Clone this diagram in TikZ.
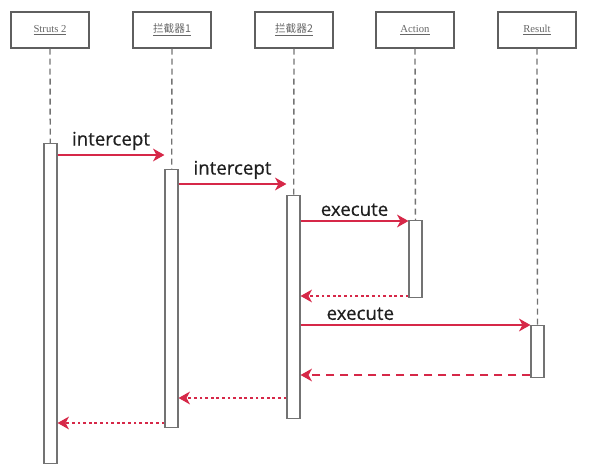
\documentclass[tikz,border=0pt]{standalone}
\usepackage{fontspec}
\setmainfont{Liberation Serif}
\newfontfamily\msgfont[FakeBold=0.5]{Open Sans}
\newfontfamily\cjkfont{Noto Sans CJK SC}
\usetikzlibrary{arrows.meta}
\definecolor{msg-red}{RGB}{214,40,72}
\definecolor{frame-gray}{RGB}{95,95,95}
\definecolor{life-gray}{RGB}{115,115,115}
\begin{document}
\begin{tikzpicture}[x=0.75pt,y=-0.75pt,
	head/.style={draw=frame-gray,line width=1.1pt,minimum width=58.5pt,minimum height=27pt,inner sep=0pt,
		font=\fontsize{8}{9}\selectfont,text=black!60},
	bar/.style={draw=life-gray,line width=1.1pt,fill=white,minimum width=9.5pt,inner sep=0pt,anchor=north},
	life/.style={draw=life-gray,line width=1pt,dash pattern=on 4.5pt off 3pt},
	msg/.style={draw=msg-red,line width=2.1pt,-{Stealth[length=8.5pt,width=9.5pt,inset=2.5pt]}},
	back/.style={msg,dash pattern=on 2.2pt off 2pt},
	backdash/.style={msg,dash pattern=on 6pt off 4.5pt},
	msgtext/.style={font=\msgfont\fontsize{14}{16}\selectfont,text=black!88,inner sep=1.2pt,above=1.5pt}]
\useasboundingbox (0,0) rectangle (592,470);
\foreach \nm/\x/\txt in {struts/50/{Struts 2},lj1/172/{\cjkfont 拦截器1},lj2/294/{\cjkfont 拦截器2},act/415/Action,res/537/Result}{
	\node[head] (\nm) at (\x,30) {\underline{\txt}};
}
\node[bar,minimum height={(463-143)*0.75pt}] (sbar) at (50.5,143) {};
\node[bar,minimum height={(427-169)*0.75pt}] (lbar1) at (171.5,169) {};
\node[bar,minimum height={(418-195)*0.75pt}] (lbar2) at (293.5,195) {};
\node[bar,minimum height={(297-220)*0.75pt}] (abar) at (415.5,220) {};
\node[bar,minimum height={(377-325)*0.75pt}] (rbar) at (537.5,325) {};
\draw[life] (struts) -- (sbar);
\draw[life] (lj1) -- (lbar1);
\draw[life] (lj2) -- (lbar2);
\draw[life] (act) -- (abar);
\draw[life] (res) -- (rbar);
\draw[msg] (sbar.east |- 0,155) -- (lbar1.west |- 0,155) node[midway,msgtext] {intercept};
\draw[msg] (lbar1.east |- 0,184) -- (lbar2.west |- 0,184) node[midway,msgtext] {intercept};
\draw[msg] (lbar2.east |- 0,221) -- (abar.west |- 0,221) node[midway,msgtext] {execute};
\draw[back] (abar.west |- 0,296) -- (lbar2.east |- 0,296);
\draw[msg] (lbar2.east |- 0,325) -- (rbar.west |- 0,325) node[pos=0.26,msgtext] {execute};
\draw[backdash] (rbar.west |- 0,375) -- (lbar2.east |- 0,375);
\draw[back] (lbar2.west |- 0,398) -- (lbar1.east |- 0,398);
\draw[back] (lbar1.west |- 0,423) -- (sbar.east |- 0,423);
\end{tikzpicture}
\end{document}
